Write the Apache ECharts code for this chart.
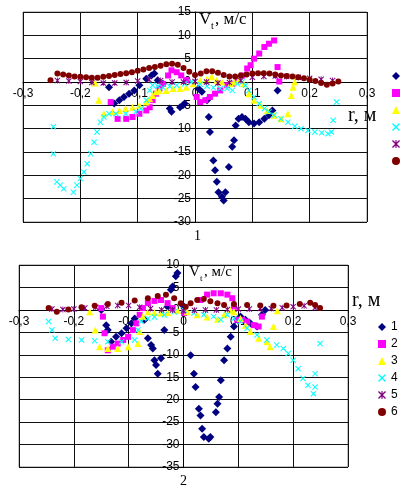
<!DOCTYPE html>
<html>
<head>
<meta charset="utf-8">
<script src="https://cdn.jsdelivr.net/npm/echarts@6/dist/echarts.min.js"></script>
<style>
  html, body { margin: 0; padding: 0; background: #fff; }
  #main { width: 400px; height: 487px; }
</style>
</head>
<body>
<div id="main"></div>
<script>
// ---- data: chart 1 ----
const c1s1 = [[-0.15,-1.1],[-0.141,-4.6],[-0.132,-3.9],[-0.124,-3.2],[-0.115,-2.5],[-0.106,-1.8],[-0.097,-0.7],[-0.085,0.7],[-0.076,1.4],[-0.071,1.8],[-0.065,0.4],[-0.056,-0.4],[-0.044,-5.7],[-0.041,-6.4],[-0.026,-5.4],[-0.021,-5],[-0.018,-4.6],[0.006,-1.4],[0.012,-2.1],[0.021,-3.9],[0.024,-7.5],[0.026,-10.7],[0.032,-16.8],[0.035,-18.9],[0.038,-21.4],[0.041,-23.6],[0.047,-24.6],[0.05,-25.4],[0.053,-23.6],[0.059,-18.2],[0.065,-13.9],[0.068,-12.5],[0.071,-9.3],[0.076,-7.9],[0.082,-7.5],[0.088,-7.9],[0.094,-8.6],[0.103,-8.9],[0.112,-8.6],[0.121,-7.9],[0.129,-7.1],[0.135,-6.1],[0.144,-1.8]];
const c1s2 = [[-0.147,-4.3],[-0.135,-7.9],[-0.12,-7.9],[-0.109,-7.5],[-0.097,-6.8],[-0.085,-6.1],[-0.079,-5.4],[-0.074,-3.9],[-0.068,-2.5],[-0.062,-1.4],[-0.056,-0.4],[-0.047,1.4],[-0.041,2.5],[-0.032,2.1],[-0.024,1.4],[-0.015,0.4],[0.003,-3.2],[0.009,-4.3],[0.018,-3.9],[0.026,-3.2],[0.035,-2.5],[0.044,-1.8],[0.056,-0.7],[0.065,-0.4],[0.074,0.7],[0.082,1.4],[0.091,2.9],[0.097,3.6],[0.103,5],[0.112,6.1],[0.121,7.5],[0.129,8.2],[0.138,8.9],[0.144,3.2],[0.147,0.1]];
const c1s3 = [[-0.174,-0.2],[-0.168,-3.9],[-0.159,-6.8],[-0.144,-6.4],[-0.132,-6.1],[-0.121,-5.7],[-0.109,-5.4],[-0.097,-5],[-0.085,-4.3],[-0.079,-3.6],[-0.074,-2.9],[-0.068,-2.1],[-0.062,-1.8],[-0.05,-1.8],[-0.038,-1.4],[-0.026,-1.4],[-0.015,-1.1],[-0.003,-0.4],[0.009,0.4],[0.021,0.7],[0.029,1.1],[0.038,0.4],[0.047,0],[0.062,-0.4],[0.068,0],[0.076,0.4],[0.085,-0.4],[0.094,-2.5],[0.103,-3.9],[0.115,-5],[0.126,-6.1],[0.138,-7.1],[0.15,-7.9],[0.162,-6.8],[0.168,-2.9],[0.171,-1.1],[0.174,0]];
const c1s4 = [[-0.247,-9.6],[-0.247,-15.4],[-0.241,-21.4],[-0.235,-22.1],[-0.229,-22.9],[-0.212,-23.6],[-0.206,-22.1],[-0.2,-20.7],[-0.194,-19.3],[-0.188,-17.5],[-0.182,-15.4],[-0.176,-12.9],[-0.171,-10.7],[-0.165,-8.6],[-0.159,-7.5],[-0.15,-6.8],[-0.138,-6.8],[-0.121,-6.8],[-0.103,-6.4],[-0.094,-5.7],[-0.085,-3.9],[-0.079,-1.8],[-0.074,-0.7],[-0.065,-0.9],[-0.056,-1.2],[-0.044,-0.9],[-0.032,-0.7],[-0.018,-0.4],[-0.006,0],[0.009,-0.5],[0.021,-0.9],[0.032,-1.2],[0.044,-1.4],[0.056,-1.4],[0.065,-1.8],[0.074,-0.4],[0.082,0],[0.088,-0.7],[0.094,-1.8],[0.103,-3.2],[0.112,-4.6],[0.121,-5.7],[0.129,-6.4],[0.138,-7.1],[0.15,-7.9],[0.162,-8.6],[0.174,-9.5],[0.185,-10],[0.197,-10.4],[0.209,-10.7],[0.221,-10.9],[0.232,-11.1],[0.238,-10.7],[0.241,-8.2],[0.247,-4.3]];
const c1s5 = [[-0.24,0.3],[-0.22,0.2],[-0.2,0.1],[-0.18,-0.1],[-0.16,-0.2],[-0.14,-0.2],[-0.12,-0.1],[-0.1,0.2],[-0.08,0.5],[-0.06,0.3],[-0.04,0],[-0.02,0],[0,0.1],[0.02,0],[0.04,-0.2],[0.06,-0.1],[0.08,0.3],[0.1,1.0],[0.12,1.2],[0.14,1.3],[0.16,1.2],[0.18,1.0],[0.2,0.8],[0.22,0.6],[0.24,0.3]];
const c1s6 = [[-0.252,0.4],[-0.24,1.8],[-0.23,1.6],[-0.22,1.4],[-0.21,1.2],[-0.2,1.1],[-0.19,1.0],[-0.18,0.9],[-0.17,0.9],[-0.16,1.1],[-0.15,1.3],[-0.14,1.5],[-0.13,1.7],[-0.12,1.9],[-0.11,2.1],[-0.1,2.4],[-0.09,2.7],[-0.08,3.0],[-0.07,3.2],[-0.06,3.5],[-0.05,3.8],[-0.04,3.9],[-0.03,3.7],[-0.02,3.0],[-0.01,2.2],[0,1.5],[0.01,1.8],[0.02,2.3],[0.03,2.3],[0.04,2.0],[0.05,1.5],[0.06,1.2],[0.07,1.2],[0.08,1.4],[0.09,1.6],[0.1,1.8],[0.11,1.9],[0.12,1.9],[0.13,1.8],[0.14,1.6],[0.15,1.4],[0.16,1.3],[0.17,1.2],[0.18,1.0],[0.19,0.8],[0.2,0.5],[0.21,0.2],[0.22,-0.2],[0.23,-0.6],[0.24,-0.3],[0.25,0.1]];

// ---- data: chart 2 ----
const c2s1 = [[-0.15,0],[-0.141,-3.4],[-0.138,-4.5],[-0.132,-7.1],[-0.123,-6.0],[-0.113,-5.2],[-0.104,-4.1],[-0.095,-3.0],[-0.089,-1.9],[-0.071,-2.2],[-0.065,-6.3],[-0.059,-7.8],[-0.056,-8.6],[-0.053,-11.2],[-0.05,-12.3],[-0.047,-14.2],[-0.041,-10.8],[-0.035,-4.5],[-0.029,0.7],[-0.023,4.5],[-0.02,5.2],[-0.014,7.5],[-0.011,8.2],[-0.002,1.1],[0.013,-10.1],[0.019,-14.2],[0.022,-17.2],[0.028,-22.0],[0.031,-23.5],[0.034,-26.5],[0.037,-28.3],[0.046,-28.7],[0.049,-28.3],[0.059,-22.8],[0.062,-20.9],[0.065,-19.4],[0.068,-15.7],[0.074,-11.2],[0.08,-8.6],[0.086,-6.0],[0.092,-3.7],[0.098,-2.2],[0.104,-1.5],[0.113,-2.2],[0.122,-3.0],[0.134,-3.7],[0.143,-1.1],[0.149,0]];
const c2s2 = [[-0.15,0.4],[-0.147,-1.5],[-0.144,-5.2],[-0.138,-9.0],[-0.129,-8.2],[-0.12,-7.5],[-0.11,-6.7],[-0.101,-6.0],[-0.092,-4.5],[-0.086,-3.0],[-0.08,-1.1],[-0.074,0.4],[-0.065,1.5],[-0.053,2.0],[-0.041,2.2],[-0.029,1.5],[-0.02,0.4],[0.001,-0.7],[0.031,2.2],[0.043,3.4],[0.055,3.7],[0.068,3.7],[0.08,3.4],[0.089,2.6],[0.092,0.7],[0.098,-2.2],[0.107,-2.2],[0.116,-2.6],[0.128,-3.4],[0.137,-3.7],[0.143,-1.5]];
const c2s3 = [[-0.171,-0.4],[-0.161,-4.5],[-0.153,-8.2],[-0.138,-8.6],[-0.12,-8.6],[-0.101,-8.2],[-0.083,-7.5],[-0.08,-4.8],[-0.074,-1.5],[-0.065,-0.4],[-0.053,-0.6],[-0.041,-0.7],[-0.029,-0.6],[-0.011,-0.1],[0.007,-0.4],[0.025,-1.1],[0.043,-1.6],[0.062,-2.1],[0.074,-1.1],[0.086,-0.1],[0.092,-0.4],[0.104,-1.9],[0.113,-3.4],[0.122,-4.8],[0.137,-6.3],[0.152,-7.1],[0.158,-8.2],[0.164,-3.7],[0.171,-0.2]];
const c2s4 = [[-0.246,-2.6],[-0.24,-4.5],[-0.234,-6.3],[-0.21,-6.6],[-0.186,-6.7],[-0.162,-6.9],[-0.138,-7.1],[-0.113,-7.1],[-0.089,-6.7],[-0.083,-4.5],[-0.077,-2.6],[-0.065,-1.9],[-0.053,-1.6],[-0.035,-1.1],[-0.017,-0.4],[0.001,-0.1],[0.019,-0.7],[0.037,-1.1],[0.055,-1.5],[0.068,-2.2],[0.08,-1.1],[0.092,-1.9],[0.104,-2.6],[0.116,-4.1],[0.134,-5.6],[0.152,-6.7],[0.17,-7.8],[0.182,-8.6],[0.191,-9.7],[0.2,-11.2],[0.209,-13.1],[0.218,-15.3],[0.227,-16.8],[0.237,-18.7],[0.24,-17.2],[0.24,-14.2],[0.249,-7.5]];
const c2s5 = [[-0.24,0.2],[-0.22,0.1],[-0.2,0.2],[-0.18,0.4],[-0.16,0.6],[-0.14,0.8],[-0.12,1.0],[-0.1,1.0],[-0.08,0.6],[-0.06,0.3],[-0.04,0],[-0.02,0],[0,-0.2],[0.02,-0.1],[0.04,0],[0.06,0],[0.08,0.1],[0.1,0.2],[0.12,0.2],[0.14,0.3],[0.16,0.3],[0.18,0.5],[0.2,0.7],[0.22,0.9],[0.24,0.5]];
const c2s6 = [[-0.246,0.4],[-0.231,-0.4],[-0.21,0.1],[-0.186,0.6],[-0.162,0.9],[-0.138,1.3],[-0.113,1.6],[-0.089,2.1],[-0.065,2.6],[-0.047,3.1],[-0.032,3.4],[-0.017,2.6],[-0.005,1.5],[0.004,0.7],[0.013,1.5],[0.025,2.2],[0.037,2.4],[0.049,1.9],[0.062,1.5],[0.074,1.1],[0.092,1.3],[0.116,1.1],[0.14,1.0],[0.164,0.9],[0.188,1.0],[0.212,1.3],[0.231,1.6],[0.24,1.1],[0.249,0.4]];

const seriesNames = ['1', '2', '3', '4', '5', '6'];
const xTicks = { min: -0.3, max: 0.3, interval: 0.1 };
const y1Range = { min: -30, max: 15, interval: 5 };
const y2Range = { min: -35, max: 10, interval: 5 };

const colors = ['#000080', '#ff00ff', '#ffff00', '#00ffff', '#800080', '#800000'];
const xShape = 'path://M0,1.2L1.2,0L5,3.8L8.8,0L10,1.2L6.2,5L10,8.8L8.8,10L5,6.2L1.2,10L0,8.8L3.8,5Z';
const starShape = 'path://M0,1.2L1.2,0L5,3.8L8.8,0L10,1.2L6.2,5L10,8.8L8.8,10L5,6.2L1.2,10L0,8.8L3.8,5ZM4.3,0L5.7,0L5.7,10L4.3,10Z';
const symbols = ['diamond', 'rect', 'triangle', xShape, starShape, 'circle'];
const sizes = [8, 6, 7, 6, 6, 6];

// plot boxes (px)
const boxes = [
  { left: 23, top: 12, width: 344, height: 210 },
  { left: 19, top: 265, width: 329, height: 202 }
];
const yRanges = [y1Range, y2Range];

const chart = echarts.init(document.getElementById('main'));

const fmt = v => String(Math.round(v * 10) / 10).replace('.', ',');

// the axes cross at (0,0): shift them into the plot with offset
function zeroX(gi) {
  const b = boxes[gi];
  return b.width * (0 - xTicks.min) / (xTicks.max - xTicks.min);
}
function zeroY(gi) {
  const b = boxes[gi], r = yRanges[gi];
  return b.height * (0 - r.min) / (r.max - r.min);
}

function xAxisFor(gi) {
  return {
    type: 'value', gridIndex: gi, min: xTicks.min, max: xTicks.max, interval: xTicks.interval,
    offset: -zeroY(gi),
    axisLine: { onZero: false, lineStyle: { color: '#000', width: 1 } },
    axisTick: { show: true, length: 3, lineStyle: { color: '#000' } },
    axisLabel: { formatter: fmt, color: '#000', fontSize: 12, fontFamily: 'Liberation Sans', margin: 6 },
    splitLine: { show: true, lineStyle: { color: '#111', width: 1 } }
  };
}
function yAxisFor(gi) {
  const r = yRanges[gi];
  return {
    type: 'value', gridIndex: gi, min: r.min, max: r.max, interval: r.interval,
    offset: -zeroX(gi),
    axisLine: { onZero: false, lineStyle: { color: '#000', width: 1 } },
    axisTick: { show: true, length: 4, lineStyle: { color: '#000' } },
    axisLabel: { color: '#000', fontSize: 12, fontFamily: 'Liberation Sans', margin: 4 },
    splitLine: { show: true, lineStyle: { color: '#111', width: 1 } }
  };
}

const sets = [[c1s1, c1s2, c1s3, c1s4, c1s5, c1s6], [c2s1, c2s2, c2s3, c2s4, c2s5, c2s6]];
const series = [];
sets.forEach((arr, gi) => {
  arr.forEach((d, i) => {
    series.push({
      name: seriesNames[i], type: 'scatter', xAxisIndex: gi, yAxisIndex: gi,
      symbol: symbols[i], symbolSize: sizes[i], data: d,
      itemStyle: { color: colors[i], opacity: 1 }, z: 2 + i
    });
  });
});

const legendData = seriesNames.map((n, i) => ({ name: n, icon: symbols[i] }));

const serif = 'Liberation Serif';
function txt(left, top, text, size) {
  return { type: 'text', left: left, top: top, style: { text: text, fontSize: size, fontFamily: serif, fill: '#000' } };
}

chart.setOption({
  animation: false,
  color: colors,
  grid: boxes.map(b => Object.assign({ show: true, borderColor: '#888', borderWidth: 1 }, b)),
  xAxis: [xAxisFor(0), xAxisFor(1)],
  yAxis: [yAxisFor(0), yAxisFor(1)],
  legend: [
    { orient: 'vertical', left: 387, top: 65, itemWidth: 8, itemHeight: 8, itemGap: 5,
      textStyle: { fontSize: 12, color: '#000', fontFamily: 'Liberation Sans' }, data: legendData },
    { orient: 'vertical', left: 373, top: 316, itemWidth: 8, itemHeight: 8, itemGap: 5,
      textStyle: { fontSize: 12, color: '#000', fontFamily: 'Liberation Sans' }, data: legendData }
  ],
  graphic: [
    txt(199, 11, 'V', 17), txt(211, 21, 't', 10), txt(215, 11, ', м/с', 17),
    txt(189, 265, 'V', 15), txt(200, 274, 't', 9), txt(204, 265, ', м/с', 15),
    txt(348, 106, 'r, м', 20),
    txt(352, 291, 'r, м', 20),
    txt(194, 229, '1', 14),
    txt(180, 474, '2', 14)
  ],
  series: series
});
</script>
</body>
</html>
